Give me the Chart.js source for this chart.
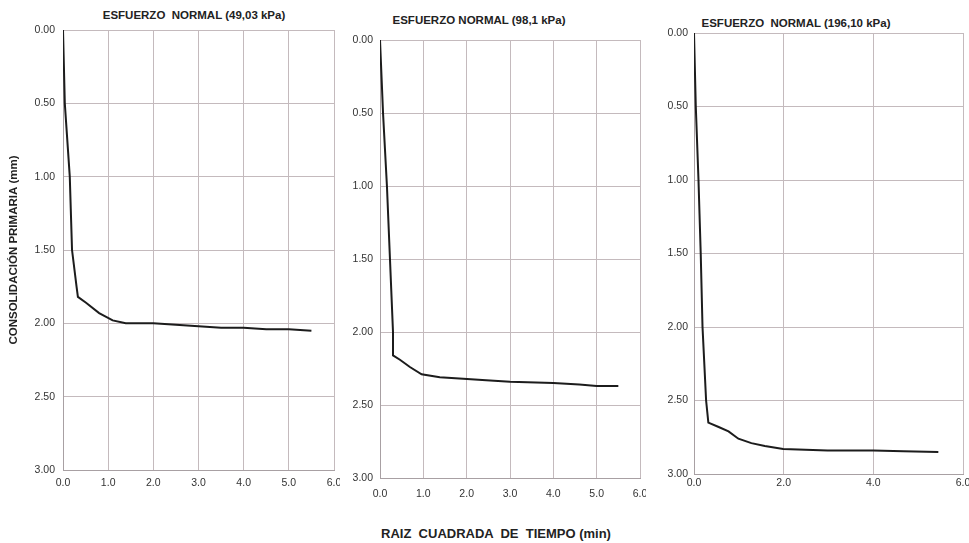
<!DOCTYPE html>
<html>
<head>
<meta charset="utf-8">
<script src="https://cdn.jsdelivr.net/npm/chart.js@4.4.1/dist/chart.umd.min.js"></script>
<style>
  body { margin: 0; background: #fff; width: 969px; height: 543px; position: relative; overflow: hidden; font-family: 'Liberation Sans', Arial, sans-serif; }
  canvas { position: absolute; top: 0; }
  .ttl { position: absolute; transform: translate(-50%, -50%); font-weight: bold; font-size: 11.5px; color: #222; white-space: pre; }
  .xlabel { position: absolute; transform: translate(-50%, -50%); font-weight: bold; font-size: 13px; color: #222; white-space: pre; }
</style>
</head>
<body>
<div class="ttl" style="left:194px; top:15px;">ESFUERZO  NORMAL (49,03 kPa)</div>
<div class="ttl" style="left:479px; top:20px;">ESFUERZO NORMAL (98,1 kPa)</div>
<div class="ttl" style="left:796px; top:23px;">ESFUERZO  NORMAL (196,10 kPa)</div>
<div class="xlabel" style="left:496px; top:533px;">RAIZ  CUADRADA  DE  TIEMPO (min)</div>

<canvas id="chart1" width="340" height="500" style="left:0px;"></canvas>
<canvas id="chart2" width="301" height="500" style="left:345px;"></canvas>
<canvas id="chart3" width="319" height="500" style="left:650px;"></canvas>

<script>
// raiz cuadrada de tiempo (min) vs consolidacion primaria (mm)
const tiempo1 = [0, 0.04, 0.15, 0.2, 0.3, 0.33, 0.51, 0.8, 1.1, 1.39, 2.0, 2.5, 3.0, 3.5, 4.0, 4.5, 5.0, 5.5];
const consol1 = [0, 0.5, 1.0, 1.5, 1.75, 1.82, 1.86, 1.93, 1.98, 2.0, 2.0, 2.01, 2.02, 2.03, 2.03, 2.04, 2.04, 2.05];

const tiempo2 = [0, 0.07, 0.16, 0.23, 0.3, 0.3, 0.46, 0.69, 0.96, 1.38, 1.92, 2.45, 3.0, 4.0, 4.6, 5.0, 5.5];
const consol2 = [0, 0.5, 1.0, 1.5, 2.0, 2.16, 2.19, 2.24, 2.29, 2.31, 2.32, 2.33, 2.34, 2.35, 2.36, 2.37, 2.37];

const tiempo3 = [0, 0.04, 0.1, 0.15, 0.19, 0.27, 0.32, 0.55, 0.77, 0.99, 1.28, 1.58, 1.99, 2.98, 4.0, 4.67, 5.45];
const consol3 = [0, 0.5, 1.0, 1.5, 2.0, 2.5, 2.65, 2.68, 2.71, 2.76, 2.79, 2.81, 2.83, 2.84, 2.84, 2.845, 2.85];

const yTicksMax = 3;
const yStep = 0.5;

const font = "'Liberation Sans', Arial, sans-serif";
const gridColor = '#c4babd';

function toPoints(xs, ys) {
  return xs.map((x, i) => ({ x: x, y: ys[i] }));
}

function makeChart(id, xs, ys, opts) {
  const ctx = document.getElementById(id);
  return new Chart(ctx, {
    type: 'scatter',
    data: {
      datasets: [{
        data: toPoints(xs, ys),
        showLine: true,
        borderColor: '#1c1c1c',
        borderWidth: 2,
        pointRadius: 0,
        tension: 0
      }]
    },
    options: {
      responsive: false,
      animation: false,
      events: [],
      layout: {
        autoPadding: false,
        padding: { top: opts.top, right: opts.right, bottom: 0, left: 0 }
      },
      plugins: { legend: { display: false }, tooltip: { enabled: false } },
      scales: {
        x: {
          type: 'linear',
          min: 0,
          max: 6,
          afterFit: s => {
            s.height = opts.xHeight;
            s.paddingLeft = 0;
            s.paddingRight = 0;
          },
          ticks: {
            stepSize: opts.xStep,
            padding: opts.xPad,
            maxRotation: 0,
            color: '#333',
            font: { family: font, size: 10.5 },
            callback: v => v.toFixed(1)
          },
          grid: { color: gridColor, drawTicks: false },
          border: { color: '#a8a0a3' }
        },
        y: {
          type: 'linear',
          min: 0,
          max: yTicksMax,
          reverse: true,
          afterFit: s => {
            s.width = opts.yWidth;
            s.paddingTop = 0;
            s.paddingBottom = 0;
          },
          title: {
            display: !!opts.yTitle,
            text: opts.yTitle || '',
            color: '#222',
            padding: { top: 7, bottom: 0 },
            font: { family: font, size: 11.5, weight: 'bold' }
          },
          ticks: {
            stepSize: yStep,
            padding: opts.yPad,
            color: '#333',
            font: { family: font, size: 10.5 },
            callback: v => v.toFixed(2)
          },
          grid: { color: gridColor, drawTicks: false },
          border: { color: '#a8a0a3' }
        }
      }
    }
  });
}

makeChart('chart1', tiempo1, consol1, {
  top: 30, right: 6, xHeight: 30, yWidth: 63, xStep: 1, xPad: 7, yPad: 8,
  yTitle: 'CONSOLIDACIÓN PRIMARIA (mm)'
});
makeChart('chart2', tiempo2, consol2, {
  top: 40, right: 6, xHeight: 22, yWidth: 35, xStep: 1, xPad: 10, yPad: 7
});
makeChart('chart3', tiempo3, consol3, {
  top: 33, right: 6, xHeight: 26, yWidth: 44, xStep: 2, xPad: 3, yPad: 6
});
</script>
</body>
</html>
